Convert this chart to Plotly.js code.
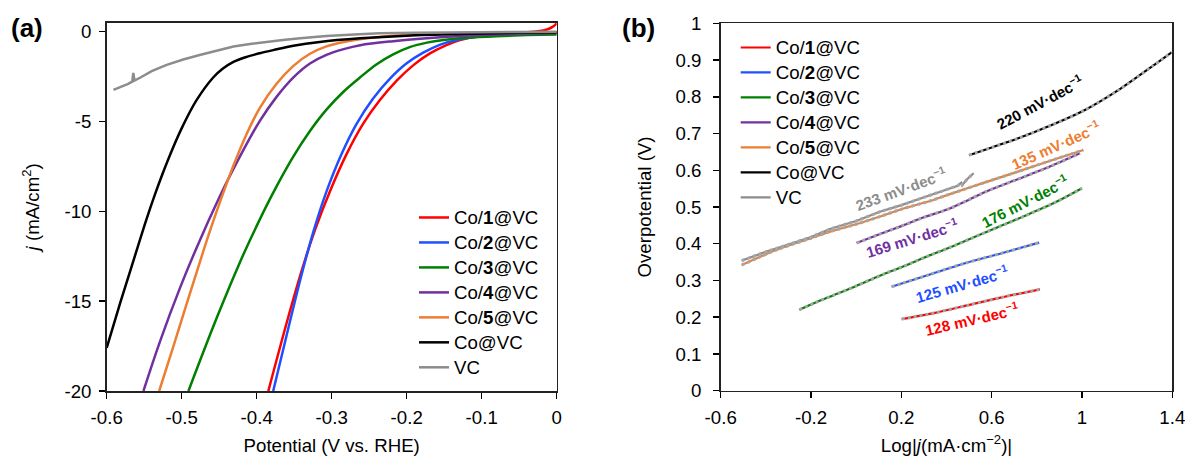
<!DOCTYPE html>
<html>
<head>
<meta charset="utf-8">
<script src="https://cdn.plot.ly/plotly-3.0.1.min.js"></script>
<style>html,body{margin:0;padding:0;background:#fff;}#chart{width:1185px;height:457px;}</style>
</head>
<body>
<div id="chart"></div>
<script>
// ---------- Panel (a): LSV curves, potential (V vs RHE) vs j (mA/cm2) ----------
const seriesNames = ['Co/<b>1</b>@VC','Co/<b>2</b>@VC','Co/<b>3</b>@VC','Co/<b>4</b>@VC','Co/<b>5</b>@VC','Co@VC','VC'];
const seriesColors = ['#ff0000','#1f4fff','#008000','#7030a0','#ed7d31','#000000','#8c8c8c'];

const aX_Co1 = [-0.3845,-0.36,-0.34,-0.322,-0.302,-0.28,-0.258,-0.236,-0.213,-0.191,-0.169,-0.147,-0.129,-0.10,-0.07,-0.045,-0.025,-0.013,-0.005,0];
const aY_Co1 = [-20,-16.2,-13.3,-11.0,-8.85,-6.8,-5.12,-3.82,-2.71,-1.86,-1.21,-0.75,-0.47,-0.23,-0.10,-0.04,0.02,0.12,0.28,0.47];

const aX_Co2 = [-0.378,-0.356,-0.34,-0.3245,-0.307,-0.287,-0.267,-0.245,-0.222,-0.2,-0.178,-0.156,-0.133,-0.10,-0.06,-0.02,0];
const aY_Co2 = [-20,-16.19,-13.5,-11.14,-8.9,-6.82,-5.14,-3.73,-2.60,-1.76,-1.17,-0.73,-0.46,-0.26,-0.15,-0.10,-0.09];

const aX_Co3 = [-0.491,-0.453,-0.422,-0.396,-0.373,-0.351,-0.329,-0.307,-0.284,-0.262,-0.24,-0.218,-0.196,-0.173,-0.151,-0.12,-0.08,-0.04,0];
const aY_Co3 = [-20,-15.9,-12.8,-10.46,-8.57,-6.94,-5.53,-4.34,-3.33,-2.54,-1.81,-1.26,-0.86,-0.61,-0.46,-0.34,-0.25,-0.19,-0.15];

const aX_Co4 = [-0.551,-0.529,-0.502,-0.476,-0.453,-0.431,-0.396,-0.373,-0.351,-0.329,-0.307,-0.284,-0.262,-0.218,-0.173,-0.12,-0.06,0];
const aY_Co4 = [-20,-17.25,-14.23,-11.63,-9.51,-7.64,-4.98,-3.60,-2.54,-1.77,-1.29,-0.97,-0.75,-0.53,-0.37,-0.23,-0.13,-0.08];

const aX_Co5 = [-0.53,-0.511,-0.493,-0.476,-0.462,-0.447,-0.431,-0.414,-0.396,-0.373,-0.351,-0.329,-0.307,-0.284,-0.24,-0.191,-0.14,-0.08,0];
const aY_Co5 = [-20,-17.5,-15.1,-12.85,-11.05,-9.25,-7.45,-5.75,-4.25,-2.87,-1.90,-1.23,-0.82,-0.57,-0.31,-0.16,-0.09,-0.05,-0.03];

const aX_CoVC = [-0.6,-0.582,-0.564,-0.547,-0.536,-0.525,-0.511,-0.498,-0.48,-0.458,-0.445,-0.431,-0.415,-0.396,-0.373,-0.351,-0.316,-0.262,-0.2,-0.12,-0.05,0];
const aY_CoVC = [-17.6,-15.1,-12.7,-10.45,-9.1,-7.85,-6.4,-5.2,-3.8,-2.55,-2.05,-1.68,-1.42,-1.2,-0.98,-0.78,-0.57,-0.37,-0.22,-0.12,-0.06,-0.04];

const aX_VC = [-0.591,-0.585,-0.578,-0.572,-0.566,-0.5645,-0.563,-0.555,-0.54,-0.52,-0.498,-0.476,-0.453,-0.431,-0.409,-0.387,-0.365,-0.342,-0.307,-0.27,-0.236,-0.19,-0.15,-0.1,-0.05,0];
const aY_VC = [-3.24,-3.12,-3.02,-2.92,-2.78,-2.3,-2.72,-2.55,-2.2,-1.85,-1.55,-1.30,-1.05,-0.83,-0.68,-0.56,-0.46,-0.37,-0.24,-0.16,-0.09,-0.06,-0.04,-0.03,-0.02,-0.01];

const aTickX = [-0.6,-0.5,-0.4,-0.3,-0.2,-0.1,0];
const aTickXText = ['-0.6','-0.5','-0.4','-0.3','-0.2','-0.1','0'];
const aTickY = [0,-5,-10,-15,-20];
const aTickYText = ['0','-5','-10','-15','-20'];

// ---------- Panel (b): Tafel plots ----------
const bX_Co1 = [0.2015,0.349,0.497,0.644,0.814];
const bY_Co1 = [0.195,0.212,0.233,0.254,0.276];

const bX_Co2 = [0.157,0.319,0.482,0.644,0.81];
const bY_Co2 = [0.283,0.315,0.347,0.374,0.403];

const bX_Co3 = [-0.252,-0.18,-0.1,0.0,0.128,0.2,0.3,0.423,0.6,0.748,0.88,1.0];
const bY_Co3 = [0.22,0.24,0.26,0.285,0.319,0.336,0.362,0.392,0.438,0.476,0.512,0.551];

const bX_Co4 = [0.002,0.1,0.2,0.3,0.415,0.5,0.571,0.7,0.85,0.991];
const bY_Co4 = [0.402,0.425,0.448,0.472,0.496,0.52,0.541,0.572,0.608,0.646];

const bX_Co5 = [-0.507,-0.42,-0.337,-0.2,-0.116,0.0,0.105,0.2,0.33,0.415,0.571,0.7,0.85,1.006];
const bY_Co5 = [0.342,0.366,0.387,0.415,0.433,0.453,0.474,0.494,0.517,0.535,0.567,0.593,0.624,0.655];

const bX_CoVC = [0.5,0.6,0.718,0.866,1.013,1.161,1.309,1.397];
const bY_CoVC = [0.641,0.662,0.687,0.723,0.764,0.818,0.882,0.921];

const bX_VC = [-0.507,-0.4,-0.3,-0.2,-0.116,0.0,0.105,0.2,0.327,0.415,0.45,0.465,0.47,0.49,0.52];
const bY_VC = [0.354,0.378,0.398,0.418,0.44,0.462,0.487,0.505,0.532,0.551,0.558,0.566,0.560,0.575,0.592];

const slopeLabels = ['128','125','176','169','135','220','233'];
const slopeLabelX = [0.512,0.467,0.748,0.246,0.884,0.814,0.197];
const slopeLabelY = [0.196,0.293,0.517,0.418,0.669,0.786,0.551];
const slopeLabelAngle = [-13,-16,-27,-17,-24,-28,-20];

const bTickX = [-0.6,-0.2,0.2,0.6,1,1.4];
const bTickXText = ['-0.6','-0.2','0.2','0.6','1','1.4'];
const bTickY = [0,0.1,0.2,0.3,0.4,0.5,0.6,0.7,0.8,0.9,1];
const bTickYText = ['0','0.1','0.2','0.3','0.4','0.5','0.6','0.7','0.8','0.9','1'];

// ---------- build ----------
const FONT = 'Liberation Sans, Arial, Helvetica, sans-serif';
const FS = 18.67;
const aXs = [aX_Co1,aX_Co2,aX_Co3,aX_Co4,aX_Co5,aX_CoVC,aX_VC];
const aYs = [aY_Co1,aY_Co2,aY_Co3,aY_Co4,aY_Co5,aY_CoVC,aY_VC];
const bXs = [bX_Co1,bX_Co2,bX_Co3,bX_Co4,bX_Co5,bX_CoVC,bX_VC];
const bYs = [bY_Co1,bY_Co2,bY_Co3,bY_Co4,bY_Co5,bY_CoVC,bY_VC];
const legendLabel = s => '<span style="font-size:' + FS + 'px">' + s + '</span>';

const traces = [];
for (let i = 0; i < seriesNames.length; i++) {
  traces.push({
    x: aXs[i], y: aYs[i], type: 'scatter', mode: 'lines',
    name: legendLabel(seriesNames[i]), legend: 'legend',
    line: {color: seriesColors[i], width: 2.5, shape: i === 6 ? 'linear' : 'spline', smoothing: 1},
    xaxis: 'x', yaxis: 'y', hoverinfo: 'skip'
  });
}
for (let i = 0; i < seriesNames.length; i++) {
  traces.push({
    x: bXs[i], y: bYs[i], type: 'scatter', mode: 'lines',
    name: legendLabel(seriesNames[i]), legend: 'legend2',
    line: {color: seriesColors[i], width: 2.2, shape: i === 6 ? 'linear' : 'spline', smoothing: 0.8},
    xaxis: 'x2', yaxis: 'y2', hoverinfo: 'skip'
  });
}
for (let i = 0; i < seriesNames.length; i++) {
  traces.push({
    x: bXs[i], y: bYs[i], type: 'scatter', mode: 'lines', showlegend: false,
    line: {color: '#a6a6a6', width: 3, dash: 'dot', shape: i === 6 ? 'linear' : 'spline', smoothing: 0.8},
    xaxis: 'x2', yaxis: 'y2', hoverinfo: 'skip'
  });
}

const annotations = [];
for (let i = 0; i < slopeLabels.length; i++) {
  annotations.push({
    xref: 'x2', yref: 'y2', x: slopeLabelX[i], y: slopeLabelY[i],
    text: '<b>' + slopeLabels[i] + ' mV·dec<sup>−1</sup></b>',
    showarrow: false, textangle: slopeLabelAngle[i],
    font: {family: FONT, size: 15, color: seriesColors[i]},
    xanchor: 'center', yanchor: 'middle'
  });
}
annotations.push({xref:'paper', yref:'paper', x: 27/1185, y: 1 - 28.5/457, text:'<b>(a)</b>', showarrow:false,
  font:{family:FONT, size:26, color:'#000'}, xanchor:'center', yanchor:'middle'});
annotations.push({xref:'paper', yref:'paper', x: 638.3/1185, y: 1 - 28.5/457, text:'<b>(b)</b>', showarrow:false,
  font:{family:FONT, size:26, color:'#000'}, xanchor:'center', yanchor:'middle'});

const axisCommon = {
  ticks: 'outside', ticklen: 6, tickwidth: 1.5, tickcolor: '#000',
  showline: true, linewidth: 1.5, linecolor: '#222', mirror: true,
  showgrid: false, zeroline: false, tickmode: 'array', ticklabeloverflow: 'allow',
  tickfont: {family: FONT, size: FS, color: '#000'}, fixedrange: true
};

const layout = {
  width: 1185, height: 457,
  margin: {l: 0, r: 0, t: 0, b: 0},
  paper_bgcolor: '#fff', plot_bgcolor: '#fff',
  font: {family: FONT, size: FS, color: '#000'},
  xaxis: Object.assign({}, axisCommon, {
    domain: [106.7/1185, 556.7/1185], range: [-0.6, 0], anchor: 'y',
    tickvals: aTickX, ticktext: aTickXText, ticklabelstandoff: 3,
    title: {text: 'Potential (V vs. RHE)', font: {family: FONT, size: FS}, standoff: 12}
  }),
  yaxis: Object.assign({}, axisCommon, {
    domain: [1 - 391/457, 1 - 22.7/457], range: [-20, 0.5], anchor: 'x',
    tickvals: aTickY, ticktext: aTickYText, ticklabelstandoff: 4,
    title: {text: '<i>j</i> (mA/cm<sup>2</sup>)', font: {family: FONT, size: FS}, standoff: 20}
  }),
  xaxis2: Object.assign({}, axisCommon, {
    domain: [720.7/1185, 1172.3/1185], range: [-0.6, 1.4], anchor: 'y2',
    tickvals: bTickX, ticktext: bTickXText, ticklabelstandoff: 3,
    title: {text: 'Log|<i>j</i>(mA·cm<sup>−2</sup>)|', font: {family: FONT, size: FS}, standoff: 12}
  }),
  yaxis2: Object.assign({}, axisCommon, {
    domain: [1 - 390.7/457, 1 - 23.3/457], range: [0, 1], anchor: 'x2',
    tickvals: bTickY, ticktext: bTickYText, ticklabelstandoff: 8,
    title: {text: 'Overpotential (V)', font: {family: FONT, size: FS}, standoff: 19}
  }),
  legend: {
    x: 414/1185, y: 1 - 200/457, xanchor: 'left', yanchor: 'top',
    bgcolor: 'rgba(0,0,0,0)', borderwidth: 0,
    font: {family: FONT, size: 16.9, color: '#000'}
  },
  legend2: {
    x: 735.7/1185, y: 1 - 30/457, xanchor: 'left', yanchor: 'top',
    bgcolor: 'rgba(0,0,0,0)', borderwidth: 0,
    font: {family: FONT, size: 16.9, color: '#000'}
  },
  annotations: annotations,
  showlegend: true
};

Plotly.newPlot('chart', traces, layout, {displayModeBar: false, staticPlot: true});
</script>
</body>
</html>
